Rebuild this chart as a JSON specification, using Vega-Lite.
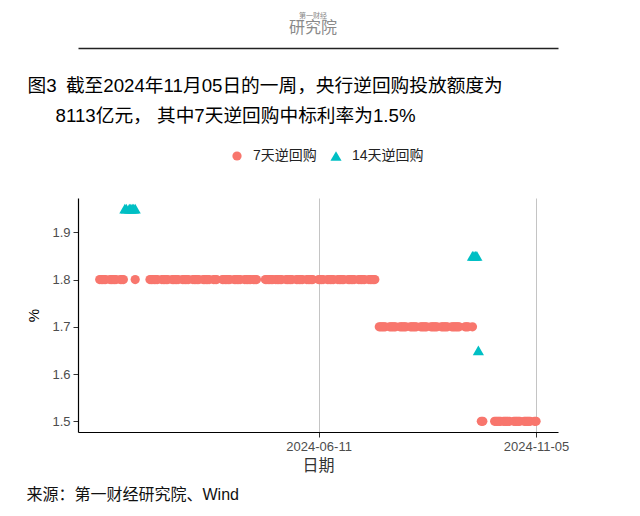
{
  "$schema": "https://vega.github.io/schema/vega-lite/v6.json",
  "width": 480,
  "height": 234,
  "autosize": "none",
  "padding": {"left": 78, "top": 198, "right": 82, "bottom": 84},
  "background": "white",
  "config": {
    "font": "Liberation Sans, Noto Sans CJK SC",
    "view": {"stroke": null}
  },
  "title": {
    "text": "第一财经",
    "subtitle": "研究院",
    "anchor": "middle",
    "frame": "group",
    "dx": -5,
    "offset": 12,
    "fontSize": 7,
    "fontWeight": "normal",
    "color": "#888888",
    "subtitleFontSize": 16,
    "subtitleColor": "#8a8a8a",
    "subtitlePadding": 1
  },
  "data": {
    "values": [
      {"d": "2024-01-15", "r": 1.8, "s": "7天逆回购"},
      {"d": "2024-01-16", "r": 1.8, "s": "7天逆回购"},
      {"d": "2024-01-17", "r": 1.8, "s": "7天逆回购"},
      {"d": "2024-01-18", "r": 1.8, "s": "7天逆回购"},
      {"d": "2024-01-19", "r": 1.8, "s": "7天逆回购"},
      {"d": "2024-01-22", "r": 1.8, "s": "7天逆回购"},
      {"d": "2024-01-23", "r": 1.8, "s": "7天逆回购"},
      {"d": "2024-01-24", "r": 1.8, "s": "7天逆回购"},
      {"d": "2024-01-25", "r": 1.8, "s": "7天逆回购"},
      {"d": "2024-01-26", "r": 1.8, "s": "7天逆回购"},
      {"d": "2024-01-29", "r": 1.8, "s": "7天逆回购"},
      {"d": "2024-01-30", "r": 1.8, "s": "7天逆回购"},
      {"d": "2024-01-31", "r": 1.8, "s": "7天逆回购"},
      {"d": "2024-02-08", "r": 1.8, "s": "7天逆回购"},
      {"d": "2024-02-18", "r": 1.8, "s": "7天逆回购"},
      {"d": "2024-02-19", "r": 1.8, "s": "7天逆回购"},
      {"d": "2024-02-20", "r": 1.8, "s": "7天逆回购"},
      {"d": "2024-02-21", "r": 1.8, "s": "7天逆回购"},
      {"d": "2024-02-22", "r": 1.8, "s": "7天逆回购"},
      {"d": "2024-02-23", "r": 1.8, "s": "7天逆回购"},
      {"d": "2024-02-26", "r": 1.8, "s": "7天逆回购"},
      {"d": "2024-02-27", "r": 1.8, "s": "7天逆回购"},
      {"d": "2024-02-28", "r": 1.8, "s": "7天逆回购"},
      {"d": "2024-02-29", "r": 1.8, "s": "7天逆回购"},
      {"d": "2024-03-01", "r": 1.8, "s": "7天逆回购"},
      {"d": "2024-03-04", "r": 1.8, "s": "7天逆回购"},
      {"d": "2024-03-05", "r": 1.8, "s": "7天逆回购"},
      {"d": "2024-03-06", "r": 1.8, "s": "7天逆回购"},
      {"d": "2024-03-07", "r": 1.8, "s": "7天逆回购"},
      {"d": "2024-03-08", "r": 1.8, "s": "7天逆回购"},
      {"d": "2024-03-11", "r": 1.8, "s": "7天逆回购"},
      {"d": "2024-03-12", "r": 1.8, "s": "7天逆回购"},
      {"d": "2024-03-13", "r": 1.8, "s": "7天逆回购"},
      {"d": "2024-03-14", "r": 1.8, "s": "7天逆回购"},
      {"d": "2024-03-15", "r": 1.8, "s": "7天逆回购"},
      {"d": "2024-03-18", "r": 1.8, "s": "7天逆回购"},
      {"d": "2024-03-19", "r": 1.8, "s": "7天逆回购"},
      {"d": "2024-03-20", "r": 1.8, "s": "7天逆回购"},
      {"d": "2024-03-21", "r": 1.8, "s": "7天逆回购"},
      {"d": "2024-03-22", "r": 1.8, "s": "7天逆回购"},
      {"d": "2024-03-25", "r": 1.8, "s": "7天逆回购"},
      {"d": "2024-03-26", "r": 1.8, "s": "7天逆回购"},
      {"d": "2024-03-27", "r": 1.8, "s": "7天逆回购"},
      {"d": "2024-03-28", "r": 1.8, "s": "7天逆回购"},
      {"d": "2024-03-29", "r": 1.8, "s": "7天逆回购"},
      {"d": "2024-04-01", "r": 1.8, "s": "7天逆回购"},
      {"d": "2024-04-02", "r": 1.8, "s": "7天逆回购"},
      {"d": "2024-04-03", "r": 1.8, "s": "7天逆回购"},
      {"d": "2024-04-07", "r": 1.8, "s": "7天逆回购"},
      {"d": "2024-04-08", "r": 1.8, "s": "7天逆回购"},
      {"d": "2024-04-09", "r": 1.8, "s": "7天逆回购"},
      {"d": "2024-04-10", "r": 1.8, "s": "7天逆回购"},
      {"d": "2024-04-11", "r": 1.8, "s": "7天逆回购"},
      {"d": "2024-04-12", "r": 1.8, "s": "7天逆回购"},
      {"d": "2024-04-15", "r": 1.8, "s": "7天逆回购"},
      {"d": "2024-04-16", "r": 1.8, "s": "7天逆回购"},
      {"d": "2024-04-17", "r": 1.8, "s": "7天逆回购"},
      {"d": "2024-04-18", "r": 1.8, "s": "7天逆回购"},
      {"d": "2024-04-19", "r": 1.8, "s": "7天逆回购"},
      {"d": "2024-04-22", "r": 1.8, "s": "7天逆回购"},
      {"d": "2024-04-23", "r": 1.8, "s": "7天逆回购"},
      {"d": "2024-04-24", "r": 1.8, "s": "7天逆回购"},
      {"d": "2024-04-25", "r": 1.8, "s": "7天逆回购"},
      {"d": "2024-04-26", "r": 1.8, "s": "7天逆回购"},
      {"d": "2024-04-28", "r": 1.8, "s": "7天逆回购"},
      {"d": "2024-04-29", "r": 1.8, "s": "7天逆回购"},
      {"d": "2024-04-30", "r": 1.8, "s": "7天逆回购"},
      {"d": "2024-05-06", "r": 1.8, "s": "7天逆回购"},
      {"d": "2024-05-07", "r": 1.8, "s": "7天逆回购"},
      {"d": "2024-05-08", "r": 1.8, "s": "7天逆回购"},
      {"d": "2024-05-09", "r": 1.8, "s": "7天逆回购"},
      {"d": "2024-05-10", "r": 1.8, "s": "7天逆回购"},
      {"d": "2024-05-11", "r": 1.8, "s": "7天逆回购"},
      {"d": "2024-05-13", "r": 1.8, "s": "7天逆回购"},
      {"d": "2024-05-14", "r": 1.8, "s": "7天逆回购"},
      {"d": "2024-05-15", "r": 1.8, "s": "7天逆回购"},
      {"d": "2024-05-16", "r": 1.8, "s": "7天逆回购"},
      {"d": "2024-05-17", "r": 1.8, "s": "7天逆回购"},
      {"d": "2024-05-20", "r": 1.8, "s": "7天逆回购"},
      {"d": "2024-05-21", "r": 1.8, "s": "7天逆回购"},
      {"d": "2024-05-22", "r": 1.8, "s": "7天逆回购"},
      {"d": "2024-05-23", "r": 1.8, "s": "7天逆回购"},
      {"d": "2024-05-24", "r": 1.8, "s": "7天逆回购"},
      {"d": "2024-05-27", "r": 1.8, "s": "7天逆回购"},
      {"d": "2024-05-28", "r": 1.8, "s": "7天逆回购"},
      {"d": "2024-05-29", "r": 1.8, "s": "7天逆回购"},
      {"d": "2024-05-30", "r": 1.8, "s": "7天逆回购"},
      {"d": "2024-05-31", "r": 1.8, "s": "7天逆回购"},
      {"d": "2024-06-03", "r": 1.8, "s": "7天逆回购"},
      {"d": "2024-06-04", "r": 1.8, "s": "7天逆回购"},
      {"d": "2024-06-05", "r": 1.8, "s": "7天逆回购"},
      {"d": "2024-06-06", "r": 1.8, "s": "7天逆回购"},
      {"d": "2024-06-07", "r": 1.8, "s": "7天逆回购"},
      {"d": "2024-06-11", "r": 1.8, "s": "7天逆回购"},
      {"d": "2024-06-12", "r": 1.8, "s": "7天逆回购"},
      {"d": "2024-06-13", "r": 1.8, "s": "7天逆回购"},
      {"d": "2024-06-14", "r": 1.8, "s": "7天逆回购"},
      {"d": "2024-06-17", "r": 1.8, "s": "7天逆回购"},
      {"d": "2024-06-18", "r": 1.8, "s": "7天逆回购"},
      {"d": "2024-06-19", "r": 1.8, "s": "7天逆回购"},
      {"d": "2024-06-20", "r": 1.8, "s": "7天逆回购"},
      {"d": "2024-06-21", "r": 1.8, "s": "7天逆回购"},
      {"d": "2024-06-24", "r": 1.8, "s": "7天逆回购"},
      {"d": "2024-06-25", "r": 1.8, "s": "7天逆回购"},
      {"d": "2024-06-26", "r": 1.8, "s": "7天逆回购"},
      {"d": "2024-06-27", "r": 1.8, "s": "7天逆回购"},
      {"d": "2024-06-28", "r": 1.8, "s": "7天逆回购"},
      {"d": "2024-07-01", "r": 1.8, "s": "7天逆回购"},
      {"d": "2024-07-02", "r": 1.8, "s": "7天逆回购"},
      {"d": "2024-07-03", "r": 1.8, "s": "7天逆回购"},
      {"d": "2024-07-04", "r": 1.8, "s": "7天逆回购"},
      {"d": "2024-07-05", "r": 1.8, "s": "7天逆回购"},
      {"d": "2024-07-08", "r": 1.8, "s": "7天逆回购"},
      {"d": "2024-07-09", "r": 1.8, "s": "7天逆回购"},
      {"d": "2024-07-10", "r": 1.8, "s": "7天逆回购"},
      {"d": "2024-07-11", "r": 1.8, "s": "7天逆回购"},
      {"d": "2024-07-12", "r": 1.8, "s": "7天逆回购"},
      {"d": "2024-07-15", "r": 1.8, "s": "7天逆回购"},
      {"d": "2024-07-16", "r": 1.8, "s": "7天逆回购"},
      {"d": "2024-07-17", "r": 1.8, "s": "7天逆回购"},
      {"d": "2024-07-18", "r": 1.8, "s": "7天逆回购"},
      {"d": "2024-07-19", "r": 1.8, "s": "7天逆回购"},
      {"d": "2024-07-22", "r": 1.7, "s": "7天逆回购"},
      {"d": "2024-07-23", "r": 1.7, "s": "7天逆回购"},
      {"d": "2024-07-24", "r": 1.7, "s": "7天逆回购"},
      {"d": "2024-07-25", "r": 1.7, "s": "7天逆回购"},
      {"d": "2024-07-26", "r": 1.7, "s": "7天逆回购"},
      {"d": "2024-07-29", "r": 1.7, "s": "7天逆回购"},
      {"d": "2024-07-30", "r": 1.7, "s": "7天逆回购"},
      {"d": "2024-07-31", "r": 1.7, "s": "7天逆回购"},
      {"d": "2024-08-01", "r": 1.7, "s": "7天逆回购"},
      {"d": "2024-08-02", "r": 1.7, "s": "7天逆回购"},
      {"d": "2024-08-05", "r": 1.7, "s": "7天逆回购"},
      {"d": "2024-08-06", "r": 1.7, "s": "7天逆回购"},
      {"d": "2024-08-07", "r": 1.7, "s": "7天逆回购"},
      {"d": "2024-08-08", "r": 1.7, "s": "7天逆回购"},
      {"d": "2024-08-09", "r": 1.7, "s": "7天逆回购"},
      {"d": "2024-08-12", "r": 1.7, "s": "7天逆回购"},
      {"d": "2024-08-13", "r": 1.7, "s": "7天逆回购"},
      {"d": "2024-08-14", "r": 1.7, "s": "7天逆回购"},
      {"d": "2024-08-15", "r": 1.7, "s": "7天逆回购"},
      {"d": "2024-08-16", "r": 1.7, "s": "7天逆回购"},
      {"d": "2024-08-19", "r": 1.7, "s": "7天逆回购"},
      {"d": "2024-08-20", "r": 1.7, "s": "7天逆回购"},
      {"d": "2024-08-21", "r": 1.7, "s": "7天逆回购"},
      {"d": "2024-08-22", "r": 1.7, "s": "7天逆回购"},
      {"d": "2024-08-23", "r": 1.7, "s": "7天逆回购"},
      {"d": "2024-08-26", "r": 1.7, "s": "7天逆回购"},
      {"d": "2024-08-27", "r": 1.7, "s": "7天逆回购"},
      {"d": "2024-08-28", "r": 1.7, "s": "7天逆回购"},
      {"d": "2024-08-29", "r": 1.7, "s": "7天逆回购"},
      {"d": "2024-08-30", "r": 1.7, "s": "7天逆回购"},
      {"d": "2024-09-02", "r": 1.7, "s": "7天逆回购"},
      {"d": "2024-09-03", "r": 1.7, "s": "7天逆回购"},
      {"d": "2024-09-04", "r": 1.7, "s": "7天逆回购"},
      {"d": "2024-09-05", "r": 1.7, "s": "7天逆回购"},
      {"d": "2024-09-06", "r": 1.7, "s": "7天逆回购"},
      {"d": "2024-09-09", "r": 1.7, "s": "7天逆回购"},
      {"d": "2024-09-10", "r": 1.7, "s": "7天逆回购"},
      {"d": "2024-09-11", "r": 1.7, "s": "7天逆回购"},
      {"d": "2024-09-12", "r": 1.7, "s": "7天逆回购"},
      {"d": "2024-09-13", "r": 1.7, "s": "7天逆回购"},
      {"d": "2024-09-14", "r": 1.7, "s": "7天逆回购"},
      {"d": "2024-09-18", "r": 1.7, "s": "7天逆回购"},
      {"d": "2024-09-19", "r": 1.7, "s": "7天逆回购"},
      {"d": "2024-09-20", "r": 1.7, "s": "7天逆回购"},
      {"d": "2024-09-23", "r": 1.7, "s": "7天逆回购"},
      {"d": "2024-09-29", "r": 1.5, "s": "7天逆回购"},
      {"d": "2024-09-30", "r": 1.5, "s": "7天逆回购"},
      {"d": "2024-10-08", "r": 1.5, "s": "7天逆回购"},
      {"d": "2024-10-09", "r": 1.5, "s": "7天逆回购"},
      {"d": "2024-10-10", "r": 1.5, "s": "7天逆回购"},
      {"d": "2024-10-11", "r": 1.5, "s": "7天逆回购"},
      {"d": "2024-10-12", "r": 1.5, "s": "7天逆回购"},
      {"d": "2024-10-14", "r": 1.5, "s": "7天逆回购"},
      {"d": "2024-10-15", "r": 1.5, "s": "7天逆回购"},
      {"d": "2024-10-16", "r": 1.5, "s": "7天逆回购"},
      {"d": "2024-10-17", "r": 1.5, "s": "7天逆回购"},
      {"d": "2024-10-18", "r": 1.5, "s": "7天逆回购"},
      {"d": "2024-10-21", "r": 1.5, "s": "7天逆回购"},
      {"d": "2024-10-22", "r": 1.5, "s": "7天逆回购"},
      {"d": "2024-10-23", "r": 1.5, "s": "7天逆回购"},
      {"d": "2024-10-24", "r": 1.5, "s": "7天逆回购"},
      {"d": "2024-10-25", "r": 1.5, "s": "7天逆回购"},
      {"d": "2024-10-28", "r": 1.5, "s": "7天逆回购"},
      {"d": "2024-10-29", "r": 1.5, "s": "7天逆回购"},
      {"d": "2024-10-30", "r": 1.5, "s": "7天逆回购"},
      {"d": "2024-10-31", "r": 1.5, "s": "7天逆回购"},
      {"d": "2024-11-01", "r": 1.5, "s": "7天逆回购"},
      {"d": "2024-11-04", "r": 1.5, "s": "7天逆回购"},
      {"d": "2024-11-05", "r": 1.5, "s": "7天逆回购"},
      {"d": "2024-02-01", "r": 1.95, "s": "14天逆回购"},
      {"d": "2024-02-02", "r": 1.95, "s": "14天逆回购"},
      {"d": "2024-02-04", "r": 1.95, "s": "14天逆回购"},
      {"d": "2024-02-05", "r": 1.95, "s": "14天逆回购"},
      {"d": "2024-02-06", "r": 1.95, "s": "14天逆回购"},
      {"d": "2024-02-07", "r": 1.95, "s": "14天逆回购"},
      {"d": "2024-02-08", "r": 1.95, "s": "14天逆回购"},
      {"d": "2024-09-23", "r": 1.85, "s": "14天逆回购"},
      {"d": "2024-09-24", "r": 1.85, "s": "14天逆回购"},
      {"d": "2024-09-25", "r": 1.85, "s": "14天逆回购"},
      {"d": "2024-09-26", "r": 1.85, "s": "14天逆回购"},
      {"d": "2024-09-27", "r": 1.65, "s": "14天逆回购"}
    ]
  },
  "layer": [
    {
      "mark": {"type": "point", "filled": true, "opacity": 1, "strokeWidth": 0},
      "encoding": {
        "x": {
          "field": "d",
          "type": "temporal",
          "scale": {
            "type": "utc",
            "nice": false,
            "domain": [
              {"year": 2023, "month": 12, "date": 31, "hours": 8, "utc": true},
              {"year": 2024, "month": 11, "date": 19, "hours": 20, "utc": true}
            ]
          },
          "axis": {
            "values": [
              {"year": 2024, "month": 6, "date": 11, "utc": true},
              {"year": 2024, "month": 11, "date": 5, "utc": true}
            ],
            "format": "%Y-%m-%d",
            "title": "日期",
            "grid": true,
            "gridColor": "#c4c4c4",
            "gridWidth": 1,
            "domainColor": "#000000",
            "domainWidth": 1.2,
            "tickColor": "#333333",
            "tickSize": 5,
            "labelColor": "#4d4d4d",
            "labelFontSize": 13,
            "labelPadding": 3,
            "labelFlush": false,
            "titleFontSize": 16,
            "titleFontWeight": "normal",
            "titleColor": "#333333",
            "titlePadding": 4
          }
        },
        "y": {
          "field": "r",
          "type": "quantitative",
          "scale": {"domain": [1.4775, 1.9725], "nice": false, "zero": false},
          "axis": {
            "values": [1.5, 1.6, 1.7, 1.8, 1.9],
            "format": ".1f",
            "title": "%",
            "grid": false,
            "domainColor": "#000000",
            "domainWidth": 1.2,
            "tickColor": "#333333",
            "tickSize": 5,
            "labelColor": "#4d4d4d",
            "labelFontSize": 13,
            "labelPadding": 3,
            "titleFontSize": 15,
            "titleFontWeight": "normal",
            "titleColor": "#000000",
            "titlePadding": 10
          }
        },
        "color": {
          "field": "s",
          "type": "nominal",
          "scale": {"domain": ["7天逆回购", "14天逆回购"], "range": ["#F8766D", "#00BFC4"]},
          "legend": {
            "title": null,
            "orient": "none",
            "direction": "horizontal",
            "legendX": 152,
            "legendY": -49,
            "labelFontSize": 14,
            "labelColor": "#222222",
            "labelOffset": 9,
            "columnPadding": 12,
            "symbolStrokeWidth": 0
          }
        },
        "shape": {
          "field": "s",
          "type": "nominal",
          "scale": {"domain": ["7天逆回购", "14天逆回购"], "range": ["circle", "triangle-up"]}
        },
        "size": {
          "field": "s",
          "type": "nominal",
          "scale": {"domain": ["7天逆回购", "14天逆回购"], "range": [85, 125]}
        }
      }
    },
    {
      "mark": {"type": "point", "opacity": 0},
      "encoding": {
        "x": {
          "field": "d",
          "type": "temporal",
          "axis": {
            "orient": "top",
            "offset": 150,
            "domain": true,
            "domainColor": "#222222",
            "domainWidth": 1.5,
            "ticks": false,
            "labels": false,
            "grid": false,
            "title": ["图3\u2002截至2024年11月05日的一周，央行逆回购投放额度为", "\u200b\u3000\u20028113亿元， 其中7天逆回购中标利率为1.5%"],
            "titleX": -51,
            "titleY": 28,
            "titleAlign": "left",
            "titleAnchor": "start",
            "titleBaseline": "top",
            "titleAngle": 0,
            "titleFontSize": 18.7,
            "titleFontWeight": "normal",
            "titleColor": "#000000",
            "titleLineHeight": 30
          }
        }
      }
    },
    {
      "mark": {"type": "point", "opacity": 0},
      "encoding": {
        "x": {
          "field": "d",
          "type": "temporal",
          "axis": {
            "orient": "bottom",
            "domain": false,
            "ticks": false,
            "labels": false,
            "grid": false,
            "title": "来源：第一财经研究院、Wind",
            "titleX": -52,
            "titleY": 62,
            "titleAlign": "left",
            "titleAnchor": "start",
            "titleBaseline": "middle",
            "titleAngle": 0,
            "titleFontSize": 16,
            "titleFontWeight": "normal",
            "titleColor": "#111111"
          }
        }
      }
    }
  ],
  "resolve": {"axis": {"x": "independent"}}
}
